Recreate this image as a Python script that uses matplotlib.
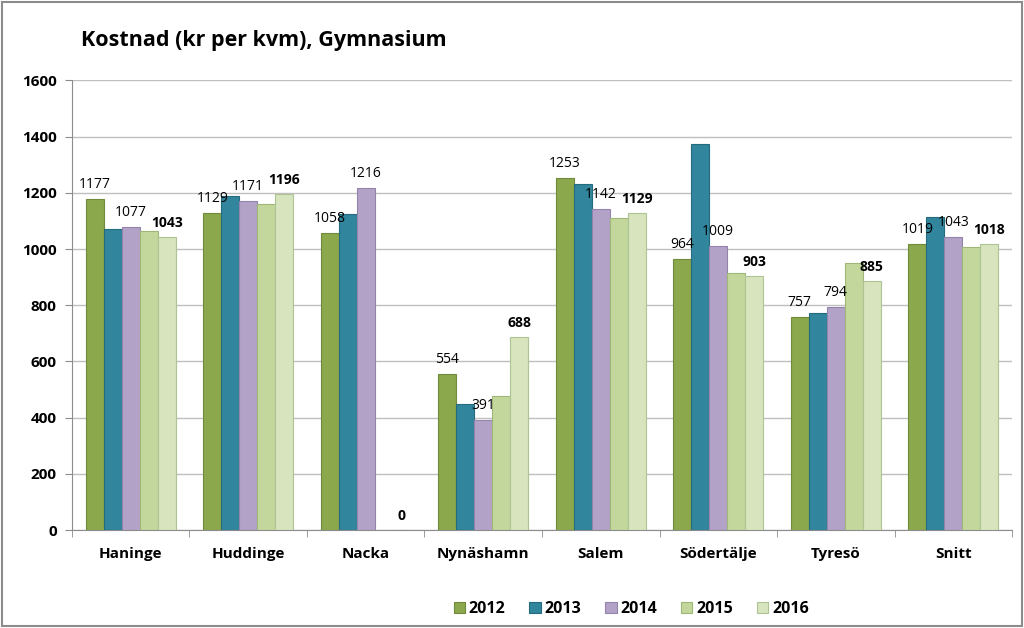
import numpy as np
import matplotlib.pyplot as plt
from matplotlib.ticker import FixedLocator

# -----------------------------
# Data
# -----------------------------
kommuner = ["Haninge", "Huddinge", "Nacka", "Nynäshamn", "Salem",
            "Södertälje", "Tyresö", "Snitt"]
years = ["2012", "2013", "2014", "2015", "2016"]

v2012 = [1177, 1129, 1058, 554, 1253, 964, 757, 1019]
v2013 = [1072, 1190, 1125, 450, 1230, 1372, 773, 1113]
v2014 = [1077, 1171, 1216, 391, 1142, 1009, 794, 1043]
v2015 = [1065, 1160, np.nan, 477, 1109, 913, 949, 1007]
v2016 = [1043, 1196, 0, 688, 1129, 903, 885, 1018]

series = [v2012, v2013, v2014, v2015, v2016]
colors = ["#8BA84C", "#31859C", "#B3A2C7", "#C3D69B", "#D7E4BD"]
edges = ["#6F8A3A", "#256B7E", "#9483AC", "#9FB878", "#AFC494"]
# which series get value labels, and how
label_style = {0: "normal", 2: "normal", 4: "bold"}

plt.rcParams['font.family'] = ['Open Sans', 'DejaVu Sans']

fig = plt.figure(figsize=(10.24, 6.28), dpi=100)
ax = fig.add_axes([0.0703, 0.156, 0.918, 0.716])

x = np.arange(len(kommuner))
w = 0.153
for i, (vals, c, ec) in enumerate(zip(series, colors, edges)):
    pos = x + (i - 2) * w
    vals = np.array(vals, dtype=float)
    ax.bar(pos, vals, width=w, color=c, edgecolor=ec, linewidth=0.8,
           label=years[i], zorder=3)
    if i in label_style:
        for p, v in zip(pos, vals):
            if np.isnan(v):
                continue
            ax.text(p, v + 25, f"{int(v)}", ha="center", va="bottom",
                    fontsize=10, fontweight=label_style[i],
                    color="black", zorder=4)

ax.set_ylim(0, 1600)
ax.set_xlim(-0.5, len(kommuner) - 0.5)
ax.set_yticks(np.arange(0, 1601, 200))
ax.grid(axis="y", color="#BFBFBF", linewidth=1.0, zorder=0)
ax.set_xticks(x)
ax.set_xticklabels(kommuner, fontweight="bold", fontsize=11)
ax.xaxis.set_minor_locator(FixedLocator(np.arange(-0.5, len(kommuner), 1)))
ax.tick_params(axis="x", which="major", length=0, pad=12)
ax.tick_params(axis="x", which="minor", length=5, color="#8C8C8C")
ax.tick_params(axis="y", length=5, color="#8C8C8C", labelsize=11, pad=6)
for lab in ax.get_yticklabels():
    lab.set_fontweight("bold")

for s in ["top", "right"]:
    ax.spines[s].set_visible(False)
for s in ["left", "bottom"]:
    ax.spines[s].set_color("#8C8C8C")

fig.text(0.079, 0.935, "Kostnad (kr per kvm), Gymnasium", fontsize=15.5,
         fontweight="bold", va="center")

leg = ax.legend(loc="center", bbox_to_anchor=(0.595, -0.175), ncol=5,
                frameon=False, fontsize=11.5, handlelength=0.7, handleheight=0.7,
                columnspacing=1.5, handletextpad=0.25)
for t in leg.get_texts():
    t.set_fontweight("bold")

# grey frame around whole chart
fig.patches.append(plt.Rectangle((0.002, 0.003), 0.996, 0.994,
                                 transform=fig.transFigure, fill=False,
                                 edgecolor="#8C8C8C", linewidth=1.5))

fig.savefig("out.png", dpi=100)
